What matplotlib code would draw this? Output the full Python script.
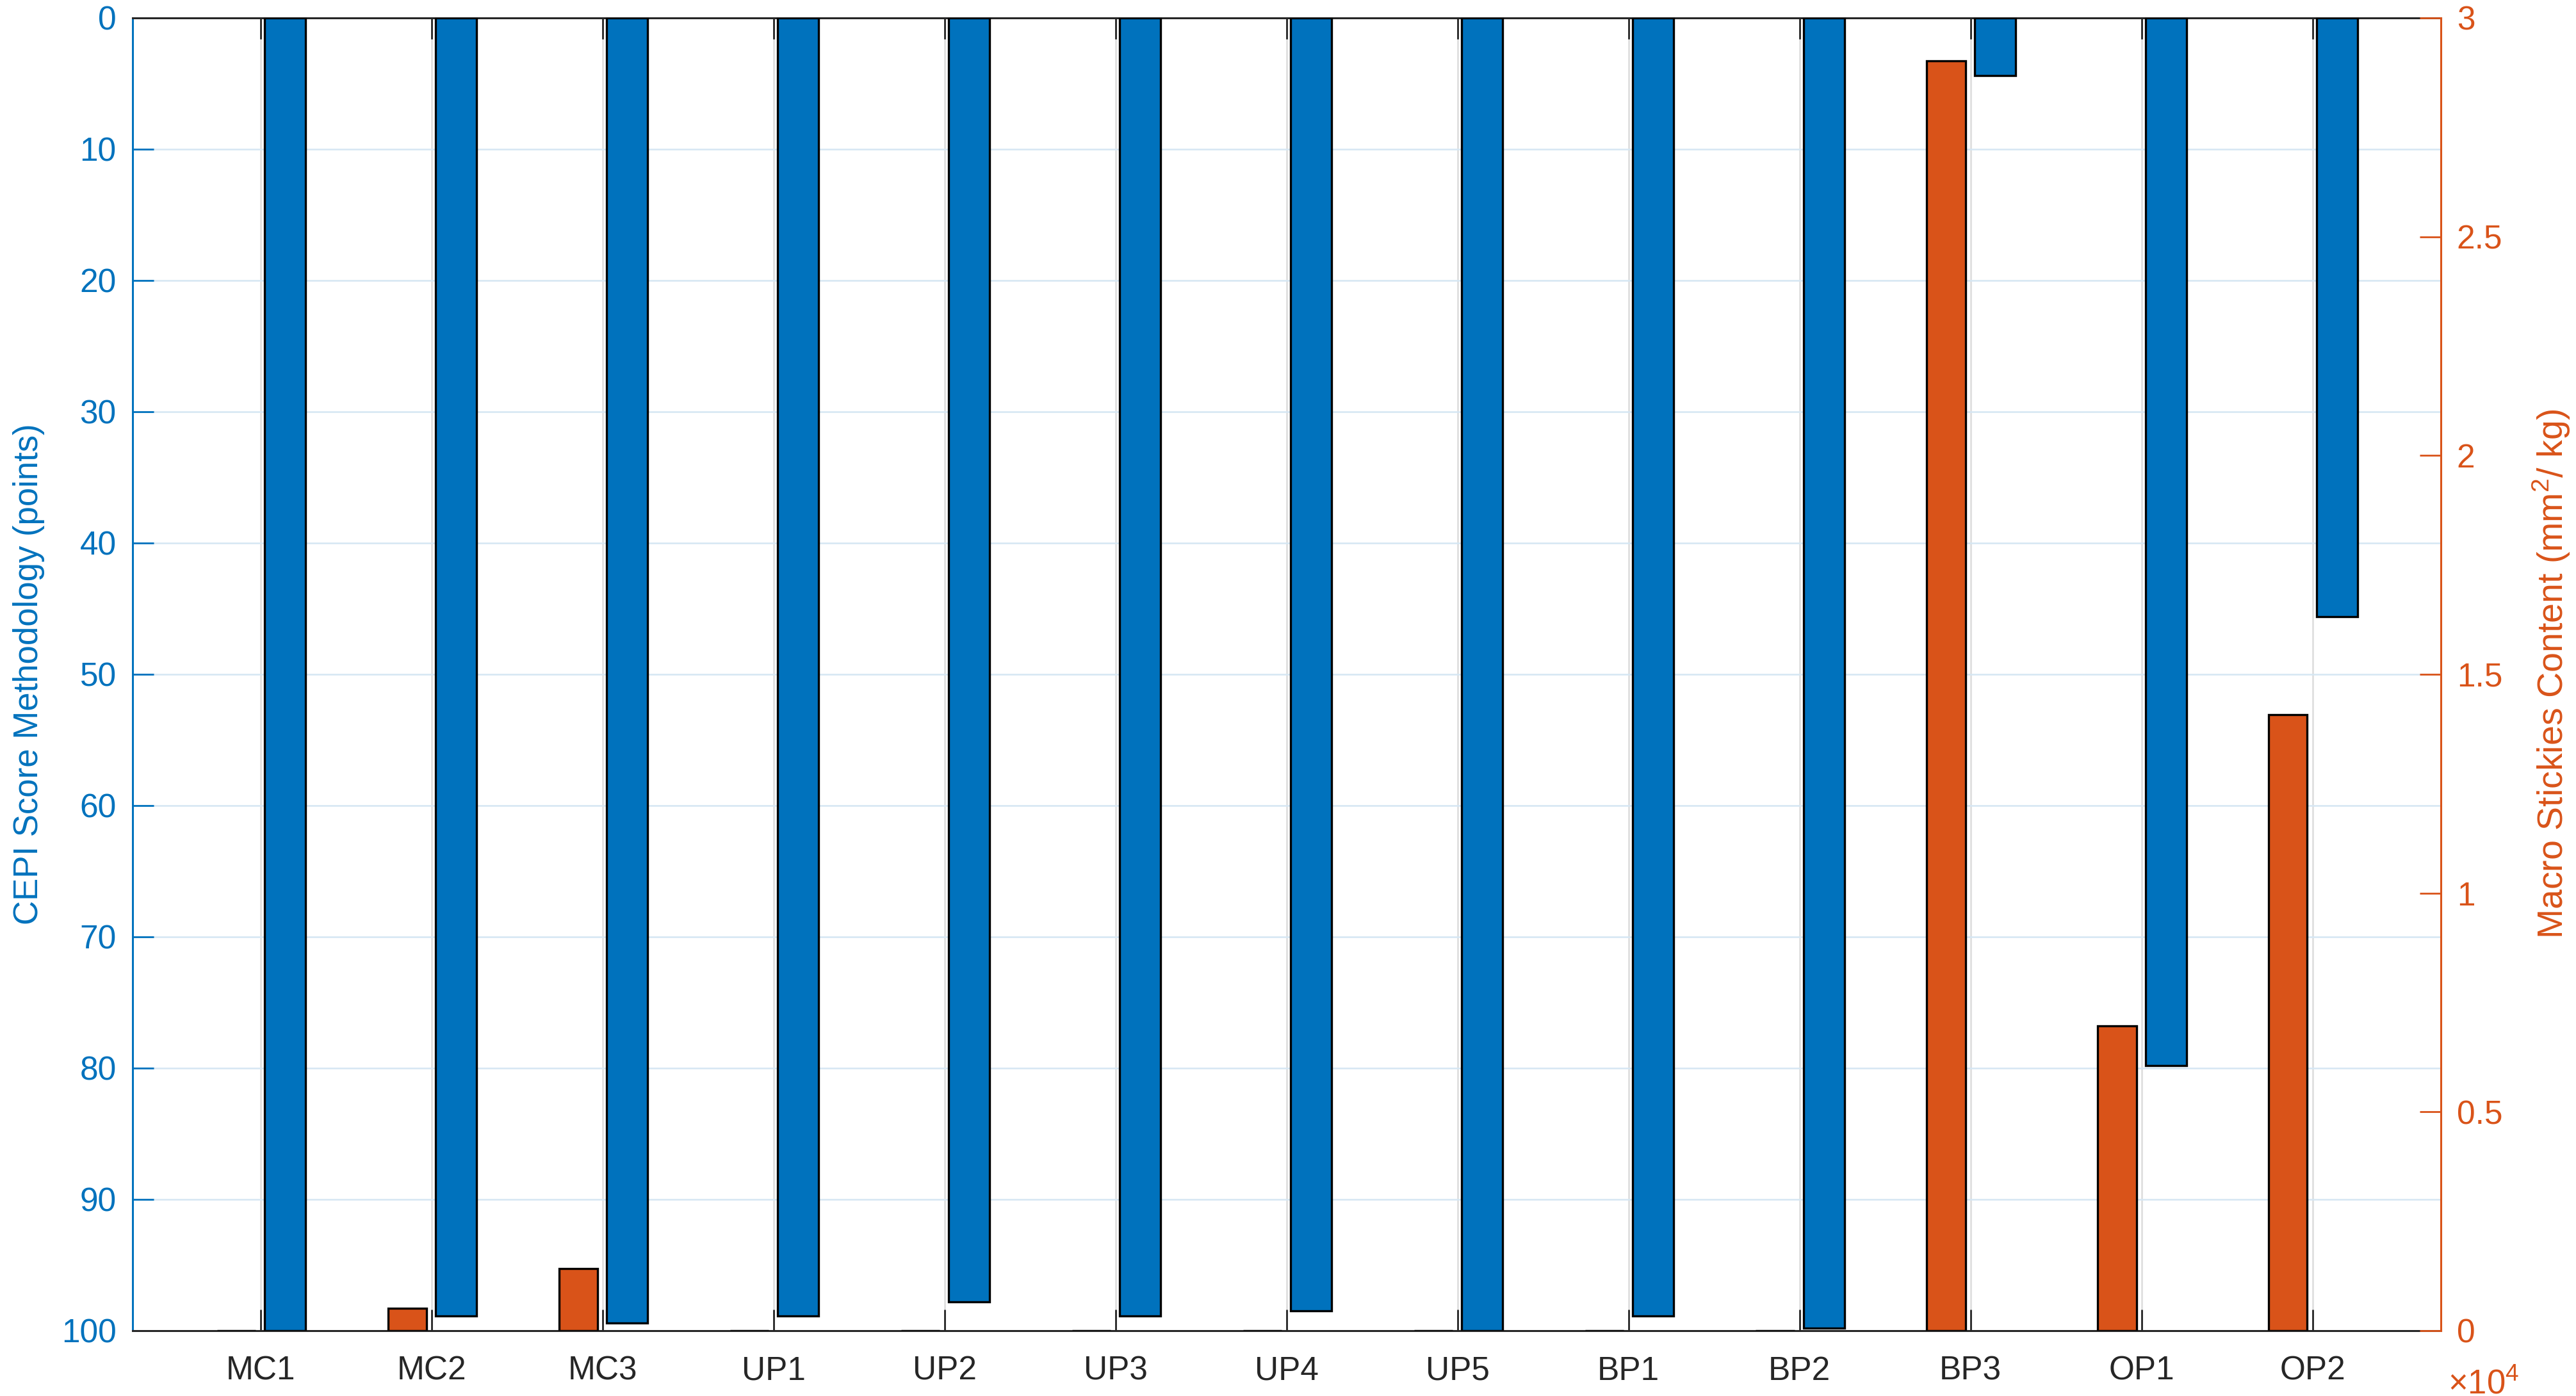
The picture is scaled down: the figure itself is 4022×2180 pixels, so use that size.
import numpy as np
import matplotlib.pyplot as plt

# data
categories = ['MC1', 'MC2', 'MC3', 'UP1', 'UP2', 'UP3', 'UP4', 'UP5',
              'BP1', 'BP2', 'BP3', 'OP1', 'OP2']
cepi_score = [100, 98.9, 99.4, 98.9, 97.8, 98.9, 98.5, 100,
              98.9, 99.8, 4.4, 79.8, 45.6]
macro_stickies = [0, 510, 1420, 0, 0, 0, 0, 0,
                  0, 0, 29020, 6970, 14080]
left_ticks = list(range(0, 101, 10))
right_ticks = [0, 5000, 10000, 15000, 20000, 25000, 30000]
right_ticklabels = ['0', '0.5', '1', '1.5', '2', '2.5', '3']

BLUE = '#0072BD'
ORANGE = '#D95319'
DARK = '#262626'

plt.rcParams['font.family'] = ['Liberation Sans', 'DejaVu Sans']
plt.rcParams['mathtext.fontset'] = 'custom'
plt.rcParams['mathtext.rm'] = 'Liberation Sans'

fig = plt.figure(figsize=(20.11, 10.9), dpi=200)
ax = fig.add_axes([0.0514, 0.0468, 0.8961, 0.9404])
ax2 = ax.twinx()

x = np.arange(1, len(categories) + 1)

# left axis: CEPI score, inverted so bars hang from the top
ax.bar(x + 0.143, cepi_score, width=0.24, color=BLUE,
       edgecolor='black', linewidth=1.2, zorder=3)
ax.set_xlim(0.25, 13.75)
ax.set_ylim(100, 0)
ax.set_yticks(left_ticks)
ax.set_xticks(x)
ax.set_xticklabels(categories)

ax.set_axisbelow(True)
ax.yaxis.grid(True, color='#d5e6f3', linewidth=0.9)
ax.xaxis.grid(True, color='#dcdcdc', linewidth=0.9)

# right axis: macro stickies
ax2.bar(x - 0.143, macro_stickies, width=0.225, color=ORANGE,
        edgecolor='black', linewidth=1.2, zorder=3)
ax2.set_ylim(0, 30000)
ax2.set_yticks(right_ticks)
ax2.set_yticklabels(right_ticklabels)

# spines
ax.spines['left'].set_color(BLUE)
ax.spines['right'].set_visible(False)
ax.spines['top'].set_color(DARK)
ax.spines['bottom'].set_color(DARK)
ax2.spines['left'].set_visible(False)
ax2.spines['top'].set_visible(False)
ax2.spines['bottom'].set_visible(False)
ax2.spines['right'].set_color(ORANGE)
for sp in ax.spines.values():
    sp.set_linewidth(1.1)
ax2.spines['right'].set_linewidth(1.1)

# ticks
ax.tick_params(axis='x', direction='in', length=12, width=1.0,
               color=DARK, labelcolor=DARK, top=True, labelsize=18.5, pad=14)
ax.tick_params(axis='y', direction='in', length=12, width=1.0,
               colors=BLUE, labelsize=18.5, pad=9)
ax2.tick_params(axis='y', direction='in', length=12, width=1.0,
                colors=ORANGE, labelsize=18.5, pad=9)

# labels
ax.set_ylabel('CEPI Score Methodology (points)', color=BLUE, fontsize=19)
ax.yaxis.set_label_coords(-0.038, 0.5)
ax2.set_ylabel('Macro Stickies Content (mm$^{2}$/ kg)', color=ORANGE,
               fontsize=20)
ax2.yaxis.set_label_coords(1.039, 0.5)

ax2.text(1.003, -0.041, '×10$^{4}$', transform=ax2.transAxes,
         ha='left', va='center', color=ORANGE, fontsize=19)

fig.savefig('out.png', dpi=200)
